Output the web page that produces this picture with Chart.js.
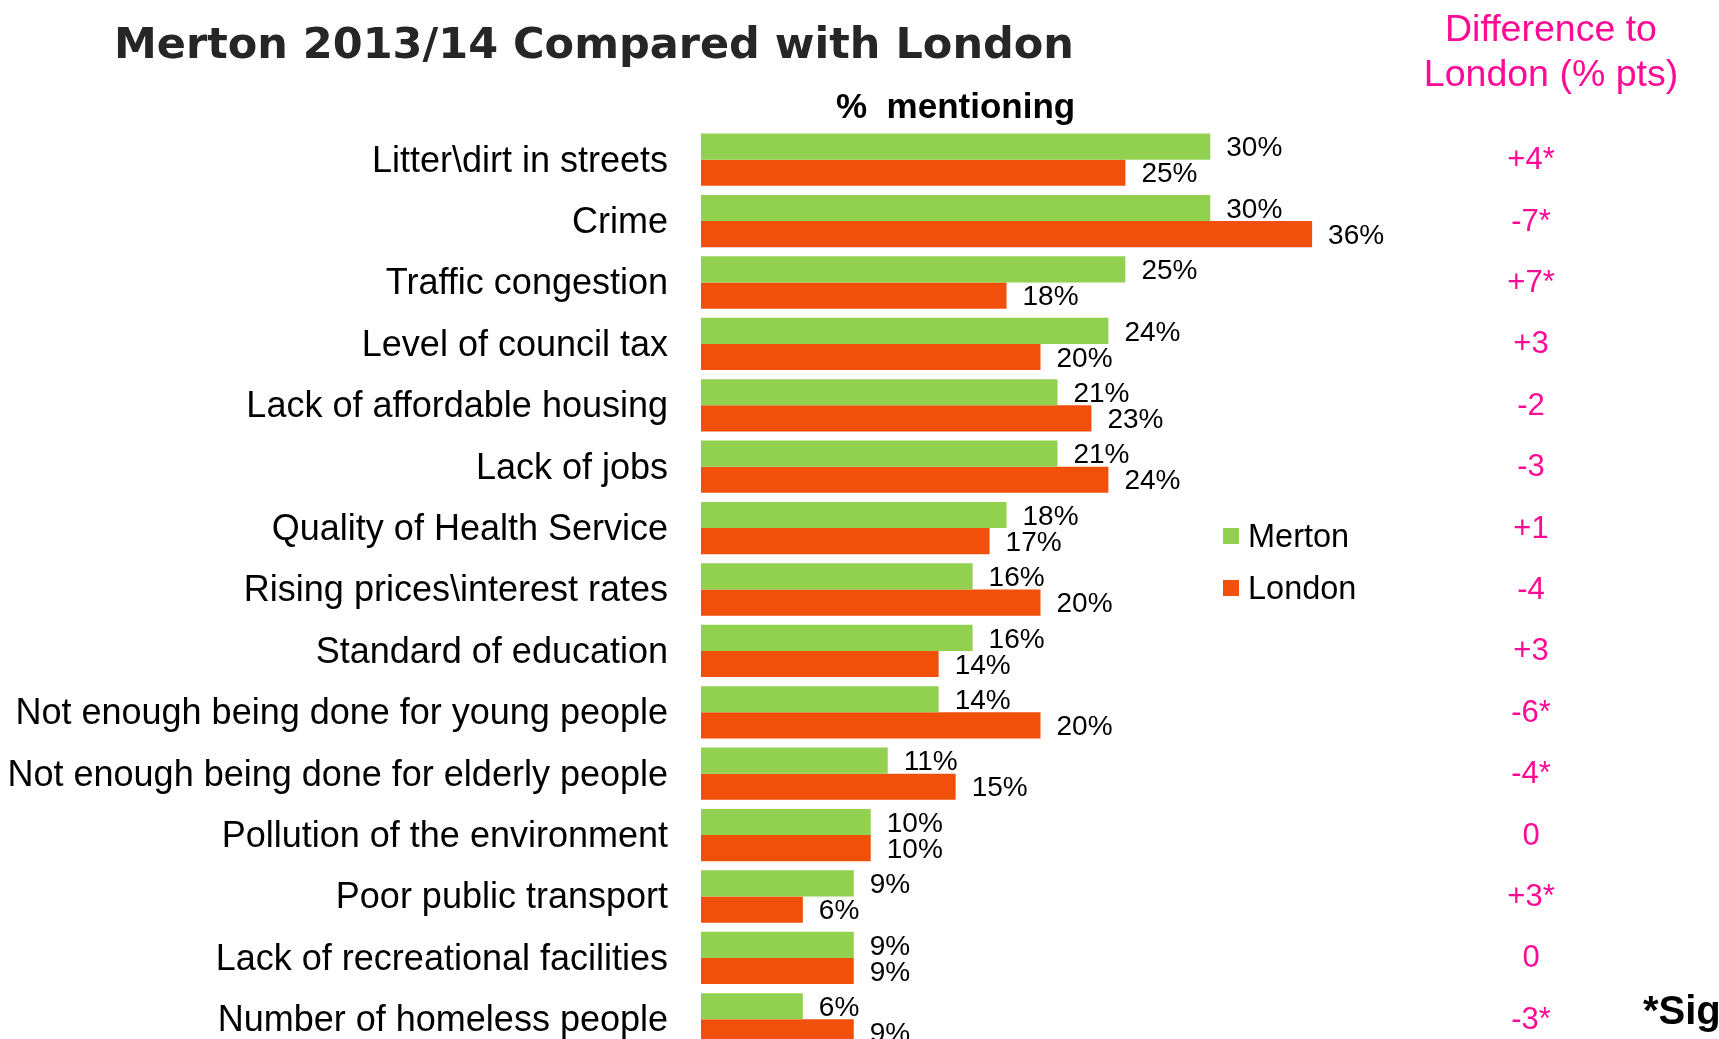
<!DOCTYPE html>
<html>
<head>
<meta charset="utf-8">
<script src="https://cdn.jsdelivr.net/npm/chart.js@4.4.1/dist/chart.umd.min.js"></script>
<style>
  html, body { margin: 0; padding: 0; background: #ffffff; overflow: hidden; width: 1719px; height: 1039px; }
  canvas { display: block; width: 1719px; height: 1070px; }
</style>
</head>
<body>
<canvas id="c" width="1719" height="1070"></canvas>
<script>
const categories = [
  "Litter\\dirt in streets",
  "Crime",
  "Traffic congestion",
  "Level of council tax",
  "Lack of affordable housing",
  "Lack of jobs",
  "Quality of Health Service",
  "Rising prices\\interest rates",
  "Standard of education",
  "Not enough being done for young people",
  "Not enough being done for elderly people",
  "Pollution of the environment",
  "Poor public transport",
  "Lack of recreational facilities",
  "Number of homeless people"
];
const mertonValues = [30, 30, 25, 24, 21, 21, 18, 16, 16, 14, 11, 10, 9, 9, 6];
const londonValues = [25, 36, 18, 20, 23, 24, 17, 20, 14, 20, 15, 10, 6, 9, 9];
const differenceLabels = ["+4*", "-7*", "+7*", "+3", "-2", "-3", "+1", "-4", "+3", "-6*", "-4*", "0", "+3*", "0", "-3*"];
const seriesNames = ["Merton", "London"];
const seriesColors = ["#92D050", "#F0500A"];
const titleText = "Merton 2013/14 Compared with London";
const subtitleText = "%  mentioning";
const diffHeader = ["Difference to", "London (% pts)"];
const footnoteText = "*Sig";

const FONT = '"Liberation Sans", Arial, Helvetica, sans-serif';

const textPlugin = {
  id: 'textPlugin',
  afterDatasetsDraw(chart) {
    const ctx = chart.ctx;
    ctx.save();
    // value labels
    ctx.font = '28px ' + FONT;
    ctx.fillStyle = '#000000';
    ctx.textAlign = 'left';
    ctx.textBaseline = 'middle';
    chart.data.datasets.forEach((ds, di) => {
      const meta = chart.getDatasetMeta(di);
      meta.data.forEach((el, i) => {
        ctx.fillText(ds.data[i] + '%', el.x + 16, el.y + 2);
      });
    });
    // difference column
    const yScale = chart.scales.y;
    ctx.font = '31px ' + FONT;
    ctx.fillStyle = '#FF0A96';
    ctx.textAlign = 'center';
    differenceLabels.forEach((t, i) => {
      ctx.fillText(t, 1531, yScale.getPixelForValue(i) + 1);
    });
    // legend
    ctx.font = '32.5px ' + FONT;
    ctx.textAlign = 'left';
    ctx.textBaseline = 'alphabetic';
    seriesNames.forEach((n, i) => {
      const y0 = 528 + i * 52;
      ctx.fillStyle = seriesColors[i];
      ctx.fillRect(1223, y0, 16, 16);
      ctx.fillStyle = '#000000';
      ctx.fillText(n, 1248, y0 + 19);
    });
    // title
    ctx.font = 'bold 43px "DejaVu Sans", Verdana, sans-serif';
    ctx.fillStyle = '#262626';
    ctx.fillText(titleText, 114, 58);
    // subtitle
    ctx.font = 'bold 35px ' + FONT;
    ctx.fillStyle = '#000000';
    ctx.fillText(subtitleText, 836, 118);
    // diff header
    ctx.font = '37.5px ' + FONT;
    ctx.fillStyle = '#FF0A96';
    ctx.textAlign = 'center';
    ctx.fillText(diffHeader[0], 1551, 41);
    ctx.fillText(diffHeader[1], 1551, 86);
    // footnote
    ctx.font = 'bold 40px ' + FONT;
    ctx.fillStyle = '#000000';
    ctx.textAlign = 'left';
    ctx.fillText(footnoteText, 1643, 1024);
    ctx.restore();
  }
};

new Chart(document.getElementById('c'), {
  type: 'bar',
  data: {
    labels: categories,
    datasets: [
      { label: seriesNames[0], data: mertonValues, backgroundColor: seriesColors[0], borderWidth: 0 },
      { label: seriesNames[1], data: londonValues, backgroundColor: seriesColors[1], borderWidth: 0 }
    ]
  },
  options: {
    indexAxis: 'y',
    responsive: false,
    maintainAspectRatio: false,
    animation: false,
    devicePixelRatio: 1,
    layout: { padding: { left: 0, right: 339, top: 129, bottom: 20 } },
    datasets: { bar: { barPercentage: 1.0, categoryPercentage: 0.852 } },
    plugins: { legend: { display: false }, tooltip: { enabled: false }, title: { display: false } },
    scales: {
      x: { display: false, min: 0, max: 40 },
      y: {
        grid: { display: false, drawTicks: false },
        border: { display: false },
        ticks: {
          autoSkip: false,
          padding: 33,
          labelOffset: 2,
          color: '#000000',
          font: { family: FONT, size: 36 }
        },
        afterFit(scale) {
          scale.width = 701;
          scale.paddingTop = 0;
          scale.paddingBottom = 0;
        }
      }
    }
  },
  plugins: [textPlugin]
});
</script>
</body>
</html>
